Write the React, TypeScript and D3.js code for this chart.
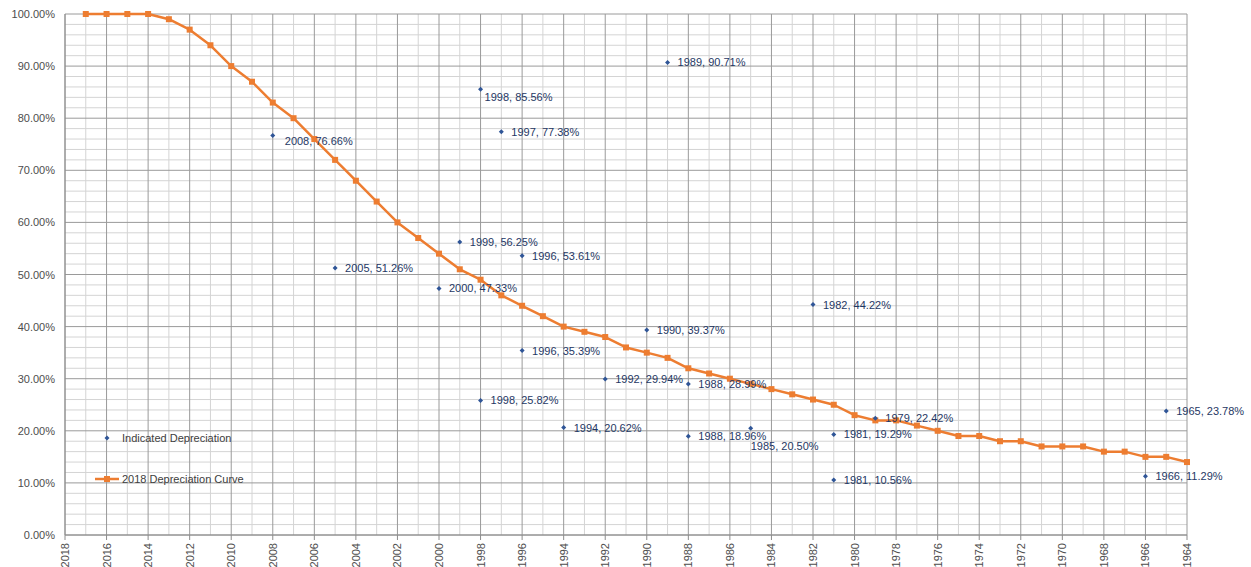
import React from "react";
import * as d3 from "d3";

const curveYears: number[] = [
  2017, 2016, 2015, 2014, 2013, 2012, 2011, 2010, 2009, 2008, 2007, 2006, 2005, 2004, 2003, 2002, 2001, 2000,
  1999, 1998, 1997, 1996, 1995, 1994, 1993, 1992, 1991, 1990, 1989, 1988, 1987, 1986, 1985, 1984, 1983, 1982,
  1981, 1980, 1979, 1978, 1977, 1976, 1975, 1974, 1973, 1972, 1971, 1970, 1969, 1968, 1967, 1966, 1965, 1964,
];
const curveValues: number[] = [
  100, 100, 100, 100, 99, 97, 94, 90, 87, 83, 80, 76, 72, 68, 64, 60, 57, 54,
  51, 49, 46, 44, 42, 40, 39, 38, 36, 35, 34, 32, 31, 30, 29, 28, 27, 26,
  25, 23, 22, 22, 21, 20, 19, 19, 18, 18, 17, 17, 17, 16, 16, 15, 15, 14,
];

const indicatedYears: number[] = [
  2008, 2005, 1999, 2000, 1998, 1997, 1996, 1996, 1998, 1994, 1992, 1990, 1989, 1988, 1988, 1985, 1982, 1981,
  1981, 1979, 1966, 1965,
];
const indicatedValues: number[] = [
  76.66, 51.26, 56.25, 47.33, 85.56, 77.38, 53.61, 35.39, 25.82, 20.62, 29.94, 39.37, 90.71, 28.99, 18.96, 20.5,
  44.22, 19.29, 10.56, 22.42, 11.29, 23.78,
];

const xTickYears: number[] = d3.range(2018, 1963, -2);
const yTickValues: number[] = d3.range(0, 101, 10);

const seriesNames: string[] = ["Indicated Depreciation", "2018 Depreciation Curve"];

const W = 1251;
const H = 567;
const margin = { left: 65, right: 64, top: 14, bottom: 32 };

export default function App() {
  const x = d3.scaleLinear().domain([2018, 1964]).range([margin.left, W - margin.right]);
  const y = d3.scaleLinear().domain([0, 100]).range([H - margin.bottom, margin.top]);

  const minorX = d3.range(2018, 1963, -1).filter((v) => v % 2 !== 0);
  const minorY = d3.range(0, 101, 2).filter((v) => v % 10 !== 0);

  const line = d3
    .line<number>()
    .x((_, i) => x(curveYears[i]))
    .y((d) => y(d));

  const fmtPct = (v: number) => v.toFixed(2) + "%";

  // label placement nudges (dx, dy from point)
  const nudge = (i: number): [number, number] => {
    const yr = indicatedYears[i];
    const v = indicatedValues[i];
    if (yr === 1998 && v === 85.56) return [4, 12];
    if (yr === 2008) return [12, 9];
    if (yr === 1985) return [0, 22];
    return [10, 4];
  };

  const font = "'Liberation Sans', Arial, sans-serif";
  const diamond = (cx: number, cy: number, r: number) =>
    `M${cx},${cy - r}L${cx + r},${cy}L${cx},${cy + r}L${cx - r},${cy}Z`;

  const x0 = margin.left;
  const x1 = W - margin.right;
  const y0 = H - margin.bottom;
  const y1 = margin.top;

  return (
    <svg
      width={W}
      height={H}
      style={{ position: "absolute", left: 0, top: 0, background: "#fff" }}
      fontFamily={font}
    >
      {/* minor grid */}
      <g stroke="#d4d4d4" strokeWidth={1}>
        {minorX.map((v) => (
          <line key={"mx" + v} x1={x(v)} x2={x(v)} y1={y1} y2={y0} />
        ))}
        {minorY.map((v) => (
          <line key={"my" + v} x1={x0} x2={x1} y1={y(v)} y2={y(v)} />
        ))}
      </g>
      {/* major grid */}
      <g stroke="#9a9a9a" strokeWidth={1}>
        {xTickYears.map((v) => (
          <line key={"gx" + v} x1={x(v)} x2={x(v)} y1={y1} y2={y0} />
        ))}
        {yTickValues.map((v) => (
          <line key={"gy" + v} x1={x0} x2={x1} y1={y(v)} y2={y(v)} />
        ))}
      </g>
      {/* axes */}
      <g stroke="#8c8c8c" strokeWidth={1}>
        <line x1={x0} x2={x0} y1={y1} y2={y0} />
        <line x1={x0} x2={x1} y1={y0} y2={y0} />
        {xTickYears.map((v) => (
          <line key={"t" + v} x1={x(v)} x2={x(v)} y1={y0} y2={y0 + 5} />
        ))}
      </g>
      {/* y labels */}
      <g fill="#4d4d4d" fontSize={11} textAnchor="end">
        {yTickValues.map((v) => (
          <text key={"yl" + v} x={x0 - 10} y={y(v) + 4}>
            {fmtPct(v)}
          </text>
        ))}
      </g>
      {/* x labels */}
      <g fill="#4d4d4d" fontSize={11} textAnchor="end">
        {xTickYears.map((v) => (
          <text key={"xl" + v} transform={`translate(${x(v) + 4},${y0 + 8}) rotate(-90)`}>
            {v}
          </text>
        ))}
      </g>
      {/* curve */}
      <path d={line(curveValues) || ""} fill="none" stroke="#ED7D31" strokeWidth={2.5} strokeLinejoin="round" />
      <g fill="#ED7D31">
        {curveValues.map((v, i) => (
          <rect key={"c" + i} x={x(curveYears[i]) - 3} y={y(v) - 3} width={6} height={6} />
        ))}
      </g>
      {/* indicated points */}
      <g>
        {indicatedValues.map((v, i) => {
          const cx = x(indicatedYears[i]);
          const cy = y(v);
          const [dx, dy] = nudge(i);
          return (
            <g key={"p" + i}>
              <path d={diamond(cx, cy, 2.5)} fill="#2F5597" />
              <text x={cx + dx} y={cy + dy} fontSize={11} fill="#1F3864">
                {indicatedYears[i]}, {fmtPct(v)}
              </text>
            </g>
          );
        })}
      </g>
      {/* legend */}
      <g fontSize={11} fill="#404040">
        <path d={diamond(107, 438, 2.5)} fill="#2F5597" />
        <text x={122} y={442}>
          {seriesNames[0]}
        </text>
        <line x1={95} x2={119} y1={479} y2={479} stroke="#ED7D31" strokeWidth={2.5} />
        <rect x={104} y={476} width={6} height={6} fill="#ED7D31" />
        <text x={122} y={483}>
          {seriesNames[1]}
        </text>
      </g>
    </svg>
  );
}
